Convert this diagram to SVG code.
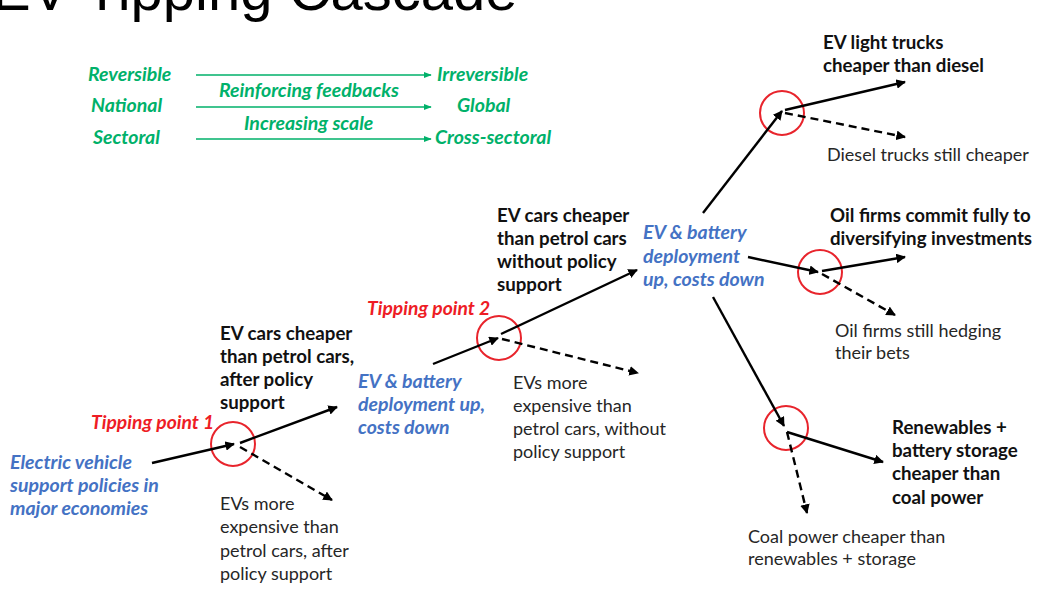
<svg xmlns="http://www.w3.org/2000/svg" width="1041" height="595" viewBox="0 0 1041 595">
<defs>
<marker id="ah" viewBox="0 0 10 10" refX="9" refY="5" markerWidth="4" markerHeight="4" markerUnits="strokeWidth" orient="auto"><path d="M0,0 L10,5 L0,10 z" fill="#000"/></marker>
<marker id="ahg" viewBox="0 0 10 10" refX="9" refY="5" markerWidth="5" markerHeight="5" markerUnits="strokeWidth" orient="auto"><path d="M0,1 L10,5 L0,9 z" fill="#00b16a"/></marker>
<style>
.t{font-family:Lato,"Liberation Sans",sans-serif;font-size:18px;fill:#262626}
.b{font-weight:bold;fill:#111;font-size:18.7px}
.bl{font-weight:bold;font-style:italic;fill:#4472c4;font-size:19.5px}
.rd{font-weight:bold;font-style:italic;fill:#ee1c25;font-size:19.3px}
.gr{font-family:Lato,"Liberation Sans",sans-serif;font-size:19.5px;font-weight:bold;font-style:italic;fill:#00b16a}
.s{stroke:#000;stroke-width:2.4;fill:none;marker-end:url(#ah)}
.d{stroke:#000;stroke-width:2.4;fill:none;stroke-dasharray:8 5;marker-end:url(#ah)}
.g{stroke:#00b16a;stroke-width:1.6;fill:none;marker-end:url(#ahg)}
.c{fill:none;stroke:#e8242c;stroke-width:2}
</style>
</defs>
<text x="-8" y="10" font-family="'Liberation Sans',Arial,sans-serif" font-size="58" fill="#000">EV Tipping Cascade</text>

<g id="legend">
<text class="gr" x="88" y="81">Reversible</text>
<text class="gr" x="91" y="112">National</text>
<text class="gr" x="93" y="144">Sectoral</text>
<text class="gr" x="219" y="97">Reinforcing feedbacks</text>
<text class="gr" x="244" y="130">Increasing scale</text>
<text class="gr" x="437" y="81">Irreversible</text>
<text class="gr" x="457" y="112">Global</text>
<text class="gr" x="435" y="144">Cross-sectoral</text>
<line class="g" x1="196" y1="75" x2="431" y2="75"/>
<line class="g" x1="196" y1="107" x2="431" y2="107"/>
<line class="g" x1="196" y1="139" x2="431" y2="139"/>
</g>

<g id="tp1"><circle class="c" cx="233" cy="444" r="22"/><text class="t rd" x="91" y="429">Tipping point 1</text></g>
<g id="tp2"><circle class="c" cx="499" cy="338" r="22"/><text class="t rd" x="367" y="315">Tipping point 2</text></g>
<g id="tp3"><circle class="c" cx="782" cy="113" r="22"/></g>
<g id="tp4"><circle class="c" cx="820" cy="272" r="22"/></g>
<g id="tp5"><circle class="c" cx="786" cy="428" r="22"/></g>

<g id="n-policies"><text class="t bl"><tspan x="10" y="469">Electric vehicle</tspan><tspan x="10" y="492">support policies in</tspan><tspan x="10" y="515">major economies</tspan></text></g>
<g id="n-ev-after"><text class="t b"><tspan x="220" y="340">EV cars cheaper</tspan><tspan x="220" y="363">than petrol cars,</tspan><tspan x="220" y="386">after policy</tspan><tspan x="220" y="409">support</tspan></text></g>
<g id="n-evs-after"><text class="t"><tspan x="220" y="510">EVs more</tspan><tspan x="220" y="533">expensive than</tspan><tspan x="220" y="557">petrol cars, after</tspan><tspan x="220" y="580">policy support</tspan></text></g>
<g id="n-deploy1"><text class="t bl"><tspan x="358" y="388">EV &amp; battery</tspan><tspan x="358" y="411">deployment up,</tspan><tspan x="358" y="434">costs down</tspan></text></g>
<g id="n-ev-without"><text class="t b"><tspan x="497" y="222">EV cars cheaper</tspan><tspan x="497" y="245">than petrol cars</tspan><tspan x="497" y="268">without policy</tspan><tspan x="497" y="291">support</tspan></text></g>
<g id="n-evs-without"><text class="t"><tspan x="513" y="389">EVs more</tspan><tspan x="513" y="412">expensive than</tspan><tspan x="513" y="435">petrol cars, without</tspan><tspan x="513" y="458">policy support</tspan></text></g>
<g id="n-deploy2"><text class="t bl"><tspan x="643" y="239">EV &amp; battery</tspan><tspan x="643" y="263">deployment</tspan><tspan x="643" y="286">up, costs down</tspan></text></g>
<g id="n-trucks"><text class="t b"><tspan x="823" y="49">EV light trucks</tspan><tspan x="823" y="72">cheaper than diesel</tspan></text></g>
<g id="n-diesel"><text class="t" x="827" y="161">Diesel trucks still cheaper</text></g>
<g id="n-oil-commit"><text class="t b"><tspan x="830" y="222">Oil firms commit fully to</tspan><tspan x="830" y="245">diversifying investments</tspan></text></g>
<g id="n-oil-hedge"><text class="t"><tspan x="835" y="337">Oil firms still hedging</tspan><tspan x="835" y="359">their bets</tspan></text></g>
<g id="n-renew"><text class="t b"><tspan x="892" y="434">Renewables +</tspan><tspan x="892" y="457">battery storage</tspan><tspan x="892" y="480">cheaper than</tspan><tspan x="892" y="504">coal power</tspan></text></g>
<g id="n-coal"><text class="t"><tspan x="748" y="543">Coal power cheaper than</tspan><tspan x="748" y="565">renewables + storage</tspan></text></g>

<g id="connectors">
<line class="s" x1="152" y1="463" x2="234" y2="444"/>
<line class="s" x1="240" y1="443" x2="337" y2="407"/>
<line class="d" x1="240" y1="447" x2="332" y2="500"/>
<line class="s" x1="433" y1="364" x2="498" y2="338"/>
<line class="s" x1="501" y1="334" x2="637" y2="270"/>
<line class="d" x1="502" y1="339" x2="638" y2="373"/>
<line class="s" x1="703" y1="213" x2="782" y2="111"/>
<line class="s" x1="785" y1="110" x2="905" y2="82"/>
<line class="d" x1="785" y1="113" x2="905" y2="137"/>
<line class="s" x1="748" y1="257" x2="818" y2="272"/>
<line class="s" x1="822" y1="271" x2="905" y2="257"/>
<line class="d" x1="822" y1="274" x2="895" y2="315"/>
<line class="s" x1="713" y1="297" x2="784" y2="426"/>
<line class="s" x1="787" y1="432" x2="883" y2="462"/>
<line class="d" x1="787" y1="432" x2="807" y2="513"/>
</g>
</svg>
